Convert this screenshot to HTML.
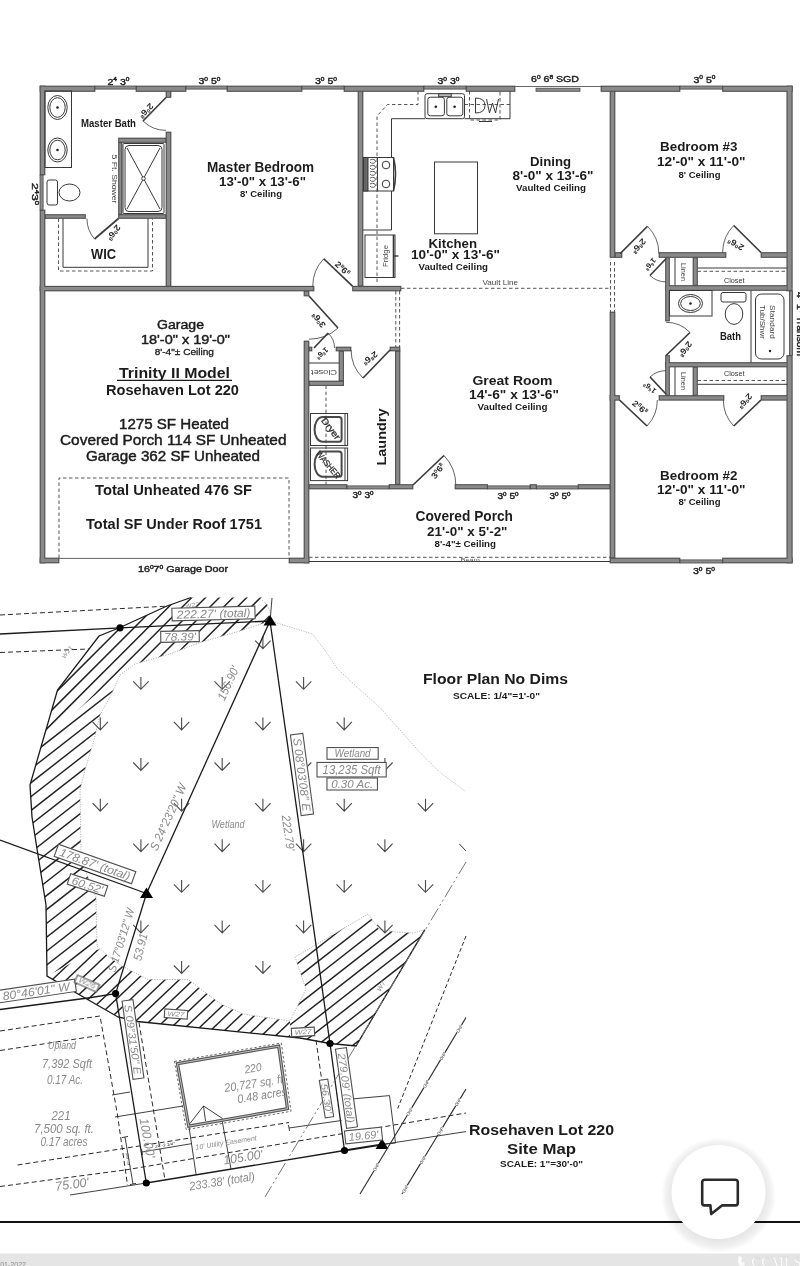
<!DOCTYPE html>
<html><head><meta charset="utf-8"><title>Floor Plan</title>
<style>
html,body{margin:0;padding:0;background:#fff;}
body{width:800px;height:1266px;overflow:hidden;position:relative;font-family:"Liberation Sans",sans-serif;}
svg{position:absolute;left:0;top:0;display:block;will-change:transform;opacity:0.9999;}
svg text{font-family:"Liberation Sans",sans-serif;}
.w rect,.w polygon{fill:#8a8a8a;stroke:#4a4a4a;stroke-width:0.8;}
.t{stroke:#383838;stroke-width:1;fill:none;}
.d{stroke:#444;stroke-width:0.9;fill:none;stroke-dasharray:3.5 2.5;}
.cad text{font-family:"Liberation Sans",sans-serif;font-style:italic;fill:#8a8a8a;font-weight:normal;}
</style></head><body>
<svg width="800" height="1266" viewBox="0 0 800 1266">
<g fill="#4e4e4e">
<rect x="39.65" y="85.65" width="55.70" height="6.20"/>
<rect x="135.65" y="85.65" width="50.70" height="6.20"/>
<rect x="226.65" y="85.65" width="75.70" height="6.20"/>
<rect x="343.65" y="85.65" width="80.70" height="6.20"/>
<rect x="465.65" y="85.65" width="49.70" height="6.20"/>
<rect x="600.65" y="85.65" width="79.70" height="6.20"/>
<rect x="722.15" y="85.65" width="70.50" height="6.20"/>
<rect x="39.65" y="85.65" width="5.70" height="89.70"/>
<rect x="39.65" y="209.65" width="5.70" height="353.70"/>
<rect x="786.45" y="85.65" width="6.20" height="205.70"/>
<rect x="786.45" y="355.15" width="6.20" height="208.20"/>
<rect x="609.65" y="557.65" width="70.70" height="5.70"/>
<rect x="722.15" y="557.65" width="70.50" height="5.70"/>
<rect x="39.65" y="557.65" width="19.70" height="5.70"/>
<rect x="288.65" y="557.65" width="20.70" height="5.70"/>
<rect x="165.65" y="90.65" width="5.70" height="7.20"/>
<rect x="165.65" y="131.65" width="5.70" height="155.20"/>
<rect x="44.65" y="214.15" width="41.20" height="4.70"/>
<rect x="118.15" y="214.15" width="48.20" height="4.70"/>
<rect x="118.15" y="137.65" width="48.20" height="5.20"/>
<rect x="118.15" y="142.15" width="4.20" height="72.70"/>
<rect x="39.65" y="285.85" width="274.70" height="5.50"/>
<rect x="352.15" y="285.85" width="49.20" height="5.50"/>
<rect x="357.65" y="90.65" width="5.70" height="195.90"/>
<rect x="609.65" y="90.65" width="5.70" height="167.20"/>
<rect x="614.65" y="252.15" width="7.70" height="5.70"/>
<rect x="609.65" y="311.65" width="5.70" height="246.70"/>
<rect x="658.65" y="252.15" width="67.70" height="5.70"/>
<rect x="760.65" y="252.15" width="27.20" height="5.70"/>
<rect x="665.15" y="257.15" width="4.70" height="64.20"/>
<rect x="665.15" y="355.15" width="4.70" height="40.70"/>
<rect x="692.65" y="257.15" width="5.20" height="28.70"/>
<rect x="692.65" y="366.65" width="5.20" height="29.20"/>
<rect x="665.15" y="285.15" width="122.70" height="5.70"/>
<rect x="665.15" y="362.15" width="122.70" height="5.20"/>
<rect x="609.65" y="395.15" width="10.20" height="5.50"/>
<rect x="658.65" y="395.15" width="65.70" height="5.50"/>
<rect x="760.65" y="395.15" width="27.20" height="5.50"/>
<rect x="303.65" y="290.65" width="5.70" height="5.70"/>
<rect x="303.65" y="340.65" width="5.70" height="222.70"/>
<rect x="308.65" y="346.65" width="3.70" height="4.70"/>
<rect x="335.65" y="346.65" width="15.70" height="4.70"/>
<rect x="338.65" y="350.65" width="5.30" height="30.70"/>
<rect x="308.65" y="380.65" width="35.30" height="5.30"/>
<rect x="389.65" y="346.65" width="10.70" height="4.70"/>
<rect x="395.05" y="350.65" width="5.30" height="134.20"/>
<rect x="308.65" y="484.15" width="38.70" height="5.20"/>
<rect x="388.65" y="484.15" width="24.70" height="5.20"/>
<rect x="454.65" y="484.15" width="33.30" height="5.20"/>
<rect x="529.65" y="484.15" width="7.20" height="5.20"/>
<rect x="577.65" y="484.15" width="32.70" height="5.20"/>
</g><g fill="#8a8a8a">
<rect x="40.75" y="86.75" width="53.50" height="4.00"/>
<rect x="136.75" y="86.75" width="48.50" height="4.00"/>
<rect x="227.75" y="86.75" width="73.50" height="4.00"/>
<rect x="344.75" y="86.75" width="78.50" height="4.00"/>
<rect x="466.75" y="86.75" width="47.50" height="4.00"/>
<rect x="601.75" y="86.75" width="77.50" height="4.00"/>
<rect x="723.25" y="86.75" width="68.30" height="4.00"/>
<rect x="40.75" y="86.75" width="3.50" height="87.50"/>
<rect x="40.75" y="210.75" width="3.50" height="351.50"/>
<rect x="787.55" y="86.75" width="4.00" height="203.50"/>
<rect x="787.55" y="356.25" width="4.00" height="206.00"/>
<rect x="610.75" y="558.75" width="68.50" height="3.50"/>
<rect x="723.25" y="558.75" width="68.30" height="3.50"/>
<rect x="40.75" y="558.75" width="17.50" height="3.50"/>
<rect x="289.75" y="558.75" width="18.50" height="3.50"/>
<rect x="166.75" y="91.75" width="3.50" height="5.00"/>
<rect x="166.75" y="132.75" width="3.50" height="153.00"/>
<rect x="45.75" y="215.25" width="39.00" height="2.50"/>
<rect x="119.25" y="215.25" width="46.00" height="2.50"/>
<rect x="119.25" y="138.75" width="46.00" height="3.00"/>
<rect x="119.25" y="143.25" width="2.00" height="70.50"/>
<rect x="40.75" y="286.95" width="272.50" height="3.30"/>
<rect x="353.25" y="286.95" width="47.00" height="3.30"/>
<rect x="358.75" y="91.75" width="3.50" height="193.70"/>
<rect x="610.75" y="91.75" width="3.50" height="165.00"/>
<rect x="615.75" y="253.25" width="5.50" height="3.50"/>
<rect x="610.75" y="312.75" width="3.50" height="244.50"/>
<rect x="659.75" y="253.25" width="65.50" height="3.50"/>
<rect x="761.75" y="253.25" width="25.00" height="3.50"/>
<rect x="666.25" y="258.25" width="2.50" height="62.00"/>
<rect x="666.25" y="356.25" width="2.50" height="38.50"/>
<rect x="693.75" y="258.25" width="3.00" height="26.50"/>
<rect x="693.75" y="367.75" width="3.00" height="27.00"/>
<rect x="666.25" y="286.25" width="120.50" height="3.50"/>
<rect x="666.25" y="363.25" width="120.50" height="3.00"/>
<rect x="610.75" y="396.25" width="8.00" height="3.30"/>
<rect x="659.75" y="396.25" width="63.50" height="3.30"/>
<rect x="761.75" y="396.25" width="25.00" height="3.30"/>
<rect x="304.75" y="291.75" width="3.50" height="3.50"/>
<rect x="304.75" y="341.75" width="3.50" height="220.50"/>
<rect x="309.75" y="347.75" width="1.50" height="2.50"/>
<rect x="336.75" y="347.75" width="13.50" height="2.50"/>
<rect x="339.75" y="351.75" width="3.10" height="28.50"/>
<rect x="309.75" y="381.75" width="33.10" height="3.10"/>
<rect x="390.75" y="347.75" width="8.50" height="2.50"/>
<rect x="396.15" y="351.75" width="3.10" height="132.00"/>
<rect x="309.75" y="485.25" width="36.50" height="3.00"/>
<rect x="389.75" y="485.25" width="22.50" height="3.00"/>
<rect x="455.75" y="485.25" width="31.10" height="3.00"/>
<rect x="530.75" y="485.25" width="5.00" height="3.00"/>
<rect x="578.75" y="485.25" width="30.50" height="3.00"/>
</g>
<g fill="#8c8c8c" stroke="#4a4a4a" stroke-width="0.8">
<rect x="95" y="86" width="41" height="3.1"/>
<rect x="186" y="86" width="41" height="3.1"/>
<rect x="302" y="86" width="42" height="3.1"/>
<rect x="424" y="86" width="42" height="3.1"/>
<rect x="680" y="86" width="42.5" height="3.1"/>
<rect x="680" y="559.9" width="42.5" height="3.1"/>
<rect x="40" y="175" width="3.1" height="35"/>
<rect x="789.4" y="291" width="3.1" height="64.5"/>
<rect x="347" y="485.9" width="42" height="3.1"/>
<rect x="487.6" y="485.9" width="42.39999999999998" height="3.1"/>
<rect x="536.5" y="485.9" width="41.5" height="3.1"/>
<rect x="536" y="88.2" width="44" height="3.1"/>
</g>
<line x1="515" y1="86.5" x2="601" y2="86.5" stroke="#555" stroke-width="0.9"/>
<line x1="59" y1="558.4" x2="289" y2="558.4" stroke="#555" stroke-width="0.9"/>
<line x1="166" y1="97.5" x2="143" y2="121" stroke="#3c3c3c" stroke-width="1.7"/>
<path d="M143 121 A32.88 32.88 0 0 0 166.00 130.38" fill="none" stroke="#3c3c3c" stroke-width="0.8"/>
<line x1="118.5" y1="218.5" x2="94.5" y2="239" stroke="#3c3c3c" stroke-width="1.7"/>
<path d="M94.5 239 A31.56 31.56 0 0 1 86.94 218.50" fill="none" stroke="#3c3c3c" stroke-width="0.8"/>
<line x1="352.5" y1="286.2" x2="323.75" y2="258.75" stroke="#3c3c3c" stroke-width="1.7"/>
<path d="M323.75 258.75 A39.75 39.75 0 0 0 312.75 286.20" fill="none" stroke="#3c3c3c" stroke-width="0.8"/>
<line x1="309" y1="296" x2="338" y2="328" stroke="#3c3c3c" stroke-width="1.7"/>
<path d="M338 328 A43.19 43.19 0 0 1 309.00 339.19" fill="none" stroke="#3c3c3c" stroke-width="0.8"/>
<line x1="314" y1="348" x2="328" y2="333" stroke="#3c3c3c" stroke-width="1.7"/>
<path d="M328 333 A20.52 20.52 0 0 1 334.52 348.00" fill="none" stroke="#3c3c3c" stroke-width="0.8"/>
<line x1="390" y1="350" x2="363" y2="378" stroke="#3c3c3c" stroke-width="1.7"/>
<path d="M363 378 A38.90 38.90 0 0 1 351.10 350.00" fill="none" stroke="#3c3c3c" stroke-width="0.8"/>
<line x1="413" y1="485" x2="444" y2="455.5" stroke="#3c3c3c" stroke-width="1.7"/>
<path d="M444 455.5 A42.79 42.79 0 0 1 455.79 485.00" fill="none" stroke="#3c3c3c" stroke-width="0.8"/>
<line x1="620" y1="253.75" x2="647.5" y2="226.25" stroke="#3c3c3c" stroke-width="1.7"/>
<path d="M647.5 226.25 A38.89 38.89 0 0 1 658.89 253.75" fill="none" stroke="#3c3c3c" stroke-width="0.8"/>
<line x1="761" y1="252.5" x2="733.75" y2="225.5" stroke="#3c3c3c" stroke-width="1.7"/>
<path d="M733.75 225.5 A38.36 38.36 0 0 0 722.64 252.50" fill="none" stroke="#3c3c3c" stroke-width="0.8"/>
<line x1="666" y1="258.75" x2="650" y2="275.5" stroke="#3c3c3c" stroke-width="1.7"/>
<path d="M650 275.5 A23.16 23.16 0 0 0 666.00 281.91" fill="none" stroke="#3c3c3c" stroke-width="0.8"/>
<line x1="666" y1="355.5" x2="690" y2="332.5" stroke="#3c3c3c" stroke-width="1.7"/>
<path d="M690 332.5 A33.24 33.24 0 0 0 666.00 322.26" fill="none" stroke="#3c3c3c" stroke-width="0.8"/>
<line x1="666" y1="394" x2="650" y2="377" stroke="#3c3c3c" stroke-width="1.7"/>
<path d="M650 377 A23.35 23.35 0 0 1 666.00 370.65" fill="none" stroke="#3c3c3c" stroke-width="0.8"/>
<line x1="619.5" y1="400" x2="647" y2="426" stroke="#3c3c3c" stroke-width="1.7"/>
<path d="M647 426 A37.85 37.85 0 0 0 657.35 400.00" fill="none" stroke="#3c3c3c" stroke-width="0.8"/>
<line x1="761" y1="400" x2="733.75" y2="426" stroke="#3c3c3c" stroke-width="1.7"/>
<path d="M733.75 426 A37.66 37.66 0 0 1 723.34 400.00" fill="none" stroke="#3c3c3c" stroke-width="0.8"/>
<g class="t">
<rect x="45" y="91" width="26.5" height="76.5"/>
<ellipse cx="57.5" cy="107.5" rx="9.7" ry="12"/>
<ellipse cx="57.5" cy="107.5" rx="7.7" ry="9.8"/>
<circle cx="57.5" cy="107.5" r="1.3" fill="#222" stroke="none"/>
<ellipse cx="57.5" cy="150" rx="9.7" ry="12"/>
<ellipse cx="57.5" cy="150" rx="7.7" ry="9.8"/>
<circle cx="57.5" cy="150" r="1.3" fill="#222" stroke="none"/>
<rect x="47" y="180" width="10.5" height="25" rx="2"/>
<ellipse cx="69.5" cy="192.5" rx="10.5" ry="8.5"/>
<rect x="123" y="143.5" width="41" height="70" rx="1"/>
<rect x="125" y="145.5" width="37" height="66" rx="4"/>
<line x1="127" y1="148" x2="160" y2="209"/><line x1="160" y1="148" x2="127" y2="209"/>
<circle cx="143.5" cy="178.5" r="1.8" fill="#fff"/>
</g>
<path class="d" d="M58.5 218.5 V271 H152.5 V218.5"/>
<path class="t" d="M63 218.5 V267.3 H148 V218.5"/>
<g class="t">
<path d="M363 230 H391.5 V191"/>
<path d="M391.5 157.5 V118.7 H425"/>
<path d="M464.5 118.7 H510 V91"/>
<rect x="363.5" y="157.5" width="30" height="33.5" fill="#fff"/>
<rect x="363.5" y="157.5" width="4.5" height="33.5" fill="#666"/>
<line x1="377.5" y1="157.5" x2="377.5" y2="191"/>
<path d="M393.5 157.5 Q397.5 174 393.5 191" stroke-width="1.6"/>
<circle cx="386" cy="165" r="3.8"/><circle cx="386" cy="184" r="3.8"/>
<path d="M370 160 q3 -1.5 5 0 q1.5 2 -1 3.2 q-3 0.5 -4 -1" stroke-width="0.8"/>
<path d="M370 166 q3 -1.5 5 0 q1.5 2 -1 3.2 q-3 0.5 -4 -1" stroke-width="0.8"/>
<path d="M370 172 q3 -1.5 5 0 q1.5 2 -1 3.2 q-3 0.5 -4 -1" stroke-width="0.8"/>
<path d="M370 178 q3 -1.5 5 0 q1.5 2 -1 3.2 q-3 0.5 -4 -1" stroke-width="0.8"/>
<path d="M370 184 q3 -1.5 5 0 q1.5 2 -1 3.2 q-3 0.5 -4 -1" stroke-width="0.8"/>
<rect x="365" y="235" width="30" height="42.5"/>
<line x1="393.5" y1="235" x2="393.5" y2="277.5" stroke-width="1.6"/>
<line x1="393.5" y1="256" x2="398.5" y2="256" stroke-width="1.4"/>
<rect x="425" y="93.7" width="39.5" height="25" rx="2" fill="#fff"/>
<rect x="427.8" y="97.2" width="16.6" height="18.6" rx="2.5"/>
<rect x="446.8" y="97.2" width="16" height="18.6" rx="2.5"/>
<circle cx="435.8" cy="106.8" r="1.3" fill="#222" stroke="none"/>
<circle cx="454.6" cy="106.8" r="1.3" fill="#222" stroke="none"/>
<rect x="438.7" y="93.7" width="12.5" height="3" fill="#bbb"/>
<rect x="434.5" y="162" width="43" height="71.8"/>
</g>
<path class="d" d="M377 282 V116 L387.5 104.5 H418 V91"/>
<path class="d" d="M464.5 104.5 H510"/>
<path class="d" d="M469.5 91 V120 H500 V91"/>
<path class="t" d="M479 121.5 H492" />
<path class="t" d="M475.5 98 V113 M475.5 98 Q485 98 485 105.5 Q485 113 475.5 113 M486.5 99 L489.5 113 L492.5 103 L495.5 113 L498.5 99" stroke-width="0.9" stroke="#555"/>
<path class="d" d="M401 288.3 H610"/>
<path class="d" d="M395.8 291 V347 M399.6 291 V347"/>
<path class="d" d="M610.5 262 V312 M614.5 262 V312"/>
<line class="t" x1="309" y1="363" x2="339" y2="363"/>
<path class="d" d="M326 385.6 V484.5"/>
<g class="t">
<rect x="310.5" y="413.5" width="37.1" height="32" />
<line x1="345" y1="413.5" x2="345" y2="445.5"/>
<path d="M323 417.1 H339 Q341.6 417.1 341.6 419.7 V439.1 Q341.6 441.7 339 441.7 H323 C311.8 441.7 311.8 417.1 323 417.1 Z" stroke-width="2" stroke="#484848"/>
<rect x="310.5" y="448" width="37.1" height="32.6" />
<line x1="345" y1="448" x2="345" y2="480.6"/>
<path d="M323 451.6 H339 Q341.6 451.6 341.6 454.2 V474.2 Q341.6 476.8 339 476.8 H323 C311.8 476.8 311.8 451.6 323 451.6 Z" stroke-width="2" stroke="#484848"/>
</g>
<path class="d" d="M697.5 271.3 H787.5 M697.5 380.5 H787.5"/>
<path class="t" d="M697.5 268 H787.5 M697.5 384.3 H787.5"/>
<path class="t" d="M675 257.5 V285.5 M675 367 V395.5"/>
<g class="t">
<rect x="669.5" y="290.5" width="42.5" height="25.5"/>
<ellipse cx="690.5" cy="303.5" rx="12" ry="9"/><ellipse cx="690.5" cy="303.5" rx="9.8" ry="7"/>
<circle cx="690.5" cy="303.5" r="1.3" fill="#222" stroke="none"/>
<rect x="721" y="292.5" width="25" height="9.5" rx="2"/>
<ellipse cx="734" cy="314" rx="8.8" ry="10.4"/>
<line x1="751" y1="290.5" x2="751" y2="362.5"/>
<rect x="755.5" y="294" width="28.5" height="65" rx="6"/>
<circle cx="770" cy="351" r="1.2" fill="#222" stroke="none"/>
</g>
<path class="d" d="M59 558 V478 H289 V558" stroke-dasharray="2.5 2"/>
<path class="d" d="M309 557.3 H610" stroke-dasharray="2.5 2"/>
<path class="t" d="M309 561.5 H610"/>
<text x="260.5" y="172" font-size="14" font-weight="bold" fill="#1c1c1c" text-anchor="middle" textLength="107" lengthAdjust="spacingAndGlyphs" >Master Bedroom</text>
<text x="262.5" y="186" font-size="13.5" font-weight="bold" fill="#1c1c1c" text-anchor="middle" textLength="87" lengthAdjust="spacingAndGlyphs" >13'-0" x 13'-6"</text>
<text x="261.0" y="197" font-size="9.5" font-weight="bold" fill="#1c1c1c" text-anchor="middle" textLength="42" lengthAdjust="spacingAndGlyphs" >8' Ceiling</text>
<text x="108.5" y="127" font-size="10" font-weight="bold" fill="#1c1c1c" text-anchor="middle" textLength="55" lengthAdjust="spacingAndGlyphs" >Master Bath</text>
<text x="103.5" y="259" font-size="14" font-weight="bold" fill="#1c1c1c" text-anchor="middle" textLength="25" lengthAdjust="spacingAndGlyphs" >WIC</text>
<text x="550.5" y="165.5" font-size="13.5" font-weight="bold" fill="#1c1c1c" text-anchor="middle" textLength="41" lengthAdjust="spacingAndGlyphs" >Dining</text>
<text x="553.0" y="179.5" font-size="13.5" font-weight="bold" fill="#1c1c1c" text-anchor="middle" textLength="81.0" lengthAdjust="spacingAndGlyphs" >8'-0" x 13'-6"</text>
<text x="551.0" y="191" font-size="9.5" font-weight="bold" fill="#1c1c1c" text-anchor="middle" textLength="70" lengthAdjust="spacingAndGlyphs" >Vaulted Ceiling</text>
<text x="452.75" y="248" font-size="13.5" font-weight="bold" fill="#1c1c1c" text-anchor="middle" textLength="48.5" lengthAdjust="spacingAndGlyphs" >Kitchen</text>
<text x="455.5" y="259" font-size="13.5" font-weight="bold" fill="#1c1c1c" text-anchor="middle" textLength="89" lengthAdjust="spacingAndGlyphs" >10'-0" x 13'-6"</text>
<text x="453.25" y="270" font-size="9.5" font-weight="bold" fill="#1c1c1c" text-anchor="middle" textLength="69.5" lengthAdjust="spacingAndGlyphs" >Vaulted Ceiling</text>
<text x="698.75" y="151" font-size="13.5" font-weight="bold" fill="#1c1c1c" text-anchor="middle" textLength="77.5" lengthAdjust="spacingAndGlyphs" >Bedroom #3</text>
<text x="701.25" y="165.5" font-size="13.5" font-weight="bold" fill="#1c1c1c" text-anchor="middle" textLength="88.5" lengthAdjust="spacingAndGlyphs" >12'-0" x 11'-0"</text>
<text x="699.5" y="177.5" font-size="9.5" font-weight="bold" fill="#1c1c1c" text-anchor="middle" textLength="42.0" lengthAdjust="spacingAndGlyphs" >8' Ceiling</text>
<text x="698.75" y="479.5" font-size="13.5" font-weight="bold" fill="#1c1c1c" text-anchor="middle" textLength="77.5" lengthAdjust="spacingAndGlyphs" >Bedroom #2</text>
<text x="701.25" y="493.7" font-size="13.5" font-weight="bold" fill="#1c1c1c" text-anchor="middle" textLength="88.5" lengthAdjust="spacingAndGlyphs" >12'-0" x 11'-0"</text>
<text x="699.5" y="504.5" font-size="9.5" font-weight="bold" fill="#1c1c1c" text-anchor="middle" textLength="42.0" lengthAdjust="spacingAndGlyphs" >8' Ceiling</text>
<text x="512.5" y="385" font-size="13.5" font-weight="bold" fill="#1c1c1c" text-anchor="middle" textLength="80.0" lengthAdjust="spacingAndGlyphs" >Great Room</text>
<text x="514.0" y="399" font-size="13.5" font-weight="bold" fill="#1c1c1c" text-anchor="middle" textLength="90" lengthAdjust="spacingAndGlyphs" >14'-6" x 13'-6"</text>
<text x="512.5" y="410" font-size="9.5" font-weight="bold" fill="#1c1c1c" text-anchor="middle" textLength="70.0" lengthAdjust="spacingAndGlyphs" >Vaulted Ceiling</text>
<text x="464.25" y="521.4" font-size="14" font-weight="bold" fill="#1c1c1c" text-anchor="middle" textLength="97.5" lengthAdjust="spacingAndGlyphs" >Covered Porch</text>
<text x="467.25" y="536" font-size="13.5" font-weight="bold" fill="#1c1c1c" text-anchor="middle" textLength="80.5" lengthAdjust="spacingAndGlyphs" >21'-0" x 5'-2"</text>
<text x="465.25" y="547.3" font-size="9.5" font-weight="bold" fill="#1c1c1c" text-anchor="middle" textLength="61.5" lengthAdjust="spacingAndGlyphs" >8'-4"± Ceiling</text>
<text x="180.5" y="329.4" font-size="13" font-weight="normal" fill="#1c1c1c" text-anchor="middle" textLength="47" lengthAdjust="spacingAndGlyphs" stroke="#1c1c1c" stroke-width="0.45">Garage</text>
<text x="185.5" y="344" font-size="13" font-weight="normal" fill="#1c1c1c" text-anchor="middle" textLength="89" lengthAdjust="spacingAndGlyphs" stroke="#1c1c1c" stroke-width="0.45">18'-0" x 19'-0"</text>
<text x="184.35" y="355.3" font-size="9.5" font-weight="normal" fill="#1c1c1c" text-anchor="middle" textLength="59.3" lengthAdjust="spacingAndGlyphs" stroke="#1c1c1c" stroke-width="0.3">8'-4"± Ceiling</text>
<text x="174.5" y="378" font-size="14.5" font-weight="bold" fill="#1c1c1c" text-anchor="middle" textLength="111" lengthAdjust="spacingAndGlyphs" >Trinity II Model</text>
<line x1="117" y1="380.3" x2="232" y2="380.3" stroke="#1c1c1c" stroke-width="1.3"/>
<text x="172.5" y="395" font-size="14" font-weight="bold" fill="#1c1c1c" text-anchor="middle" textLength="133" lengthAdjust="spacingAndGlyphs" >Rosehaven Lot 220</text>
<text x="174.0" y="429" font-size="14.5" font-weight="normal" fill="#1c1c1c" text-anchor="middle" textLength="110" lengthAdjust="spacingAndGlyphs" stroke="#1c1c1c" stroke-width="0.45">1275 SF Heated</text>
<text x="173.25" y="445" font-size="14.5" font-weight="normal" fill="#1c1c1c" text-anchor="middle" textLength="226.5" lengthAdjust="spacingAndGlyphs" stroke="#1c1c1c" stroke-width="0.45">Covered Porch 114 SF Unheated</text>
<text x="173.0" y="461" font-size="14.5" font-weight="normal" fill="#1c1c1c" text-anchor="middle" textLength="174" lengthAdjust="spacingAndGlyphs" stroke="#1c1c1c" stroke-width="0.45">Garage 362 SF Unheated</text>
<text x="173.5" y="495" font-size="14" font-weight="bold" fill="#1c1c1c" text-anchor="middle" textLength="157" lengthAdjust="spacingAndGlyphs" >Total Unheated 476 SF</text>
<text x="174.0" y="529" font-size="14" font-weight="bold" fill="#1c1c1c" text-anchor="middle" textLength="176" lengthAdjust="spacingAndGlyphs" >Total SF Under Roof 1751</text>
<text x="730.5" y="340" font-size="10" font-weight="bold" fill="#1c1c1c" text-anchor="middle" textLength="21" lengthAdjust="spacingAndGlyphs" >Bath</text>
<text x="734.25" y="283" font-size="7" font-weight="normal" fill="#333" text-anchor="middle" textLength="20.5" lengthAdjust="spacingAndGlyphs" >Closet</text>
<text x="734.25" y="376.3" font-size="7" font-weight="normal" fill="#333" text-anchor="middle" textLength="20.5" lengthAdjust="spacingAndGlyphs" >Closet</text>
<text x="500.25" y="284.5" font-size="7" font-weight="normal" fill="#444" text-anchor="middle" textLength="35.5" lengthAdjust="spacingAndGlyphs" >Vault Line</text>
<text x="470.25" y="562" font-size="6" font-weight="normal" fill="#555" text-anchor="middle" textLength="19.5" lengthAdjust="spacingAndGlyphs" >Beam</text>
<text x="118.5" y="84.5" font-size="9" font-weight="normal" stroke="#222" stroke-width="0.4" fill="#222" text-anchor="middle" textLength="22" lengthAdjust="spacingAndGlyphs" ><tspan>2</tspan><tspan dy="-3.2" font-size="5.6">4</tspan><tspan dy="3.2"> 3</tspan><tspan dy="-3.2" font-size="5.6">0</tspan></text>
<text x="209.5" y="84" font-size="9" font-weight="normal" stroke="#222" stroke-width="0.4" fill="#222" text-anchor="middle" textLength="22" lengthAdjust="spacingAndGlyphs" ><tspan>3</tspan><tspan dy="-3.2" font-size="5.6">0</tspan><tspan dy="3.2"> 5</tspan><tspan dy="-3.2" font-size="5.6">0</tspan></text>
<text x="326" y="84" font-size="9" font-weight="normal" stroke="#222" stroke-width="0.4" fill="#222" text-anchor="middle" textLength="22" lengthAdjust="spacingAndGlyphs" ><tspan>3</tspan><tspan dy="-3.2" font-size="5.6">0</tspan><tspan dy="3.2"> 5</tspan><tspan dy="-3.2" font-size="5.6">0</tspan></text>
<text x="448.5" y="84" font-size="9" font-weight="normal" stroke="#222" stroke-width="0.4" fill="#222" text-anchor="middle" textLength="22" lengthAdjust="spacingAndGlyphs" ><tspan>3</tspan><tspan dy="-3.2" font-size="5.6">0</tspan><tspan dy="3.2"> 3</tspan><tspan dy="-3.2" font-size="5.6">0</tspan></text>
<text x="555" y="82" font-size="9" font-weight="normal" stroke="#222" stroke-width="0.4" fill="#222" text-anchor="middle" textLength="48" lengthAdjust="spacingAndGlyphs" ><tspan>6</tspan><tspan dy="-3.2" font-size="5.6">0</tspan><tspan dy="3.2"> 6</tspan><tspan dy="-3.2" font-size="5.6">8</tspan><tspan dy="3.2">  SGD</tspan></text>
<text x="704.5" y="82.5" font-size="9" font-weight="normal" stroke="#222" stroke-width="0.4" fill="#222" text-anchor="middle" textLength="22" lengthAdjust="spacingAndGlyphs" ><tspan>3</tspan><tspan dy="-3.2" font-size="5.6">0</tspan><tspan dy="3.2"> 5</tspan><tspan dy="-3.2" font-size="5.6">0</tspan></text>
<text x="32" y="194" font-size="9" font-weight="normal" stroke="#222" stroke-width="0.4" fill="#222" text-anchor="middle" textLength="22" lengthAdjust="spacingAndGlyphs" transform="rotate(90 32 194)" ><tspan>2</tspan><tspan dy="-3.2" font-size="5.6">4</tspan><tspan dy="3.2">3</tspan><tspan dy="-3.2" font-size="5.6">0</tspan></text>
<text x="796.5" y="324" font-size="8.5" font-weight="normal" stroke="#222" stroke-width="0.4" fill="#222" text-anchor="middle" textLength="64" lengthAdjust="spacingAndGlyphs" transform="rotate(90 796.5 324)" ><tspan>4</tspan><tspan dy="-3.2" font-size="5.3">0</tspan><tspan dy="3.2"> 1</tspan><tspan dy="-3.2" font-size="5.3">0</tspan><tspan dy="3.2"> Transom</tspan></text>
<text x="363" y="498" font-size="8.5" font-weight="normal" stroke="#222" stroke-width="0.4" fill="#222" text-anchor="middle" textLength="21" lengthAdjust="spacingAndGlyphs" ><tspan>3</tspan><tspan dy="-3.2" font-size="5.3">0</tspan><tspan dy="3.2"> 3</tspan><tspan dy="-3.2" font-size="5.3">0</tspan></text>
<text x="508" y="499" font-size="8.5" font-weight="normal" stroke="#222" stroke-width="0.4" fill="#222" text-anchor="middle" textLength="21" lengthAdjust="spacingAndGlyphs" ><tspan>3</tspan><tspan dy="-3.2" font-size="5.3">0</tspan><tspan dy="3.2"> 5</tspan><tspan dy="-3.2" font-size="5.3">0</tspan></text>
<text x="560" y="499" font-size="8.5" font-weight="normal" stroke="#222" stroke-width="0.4" fill="#222" text-anchor="middle" textLength="21" lengthAdjust="spacingAndGlyphs" ><tspan>3</tspan><tspan dy="-3.2" font-size="5.3">0</tspan><tspan dy="3.2"> 5</tspan><tspan dy="-3.2" font-size="5.3">0</tspan></text>
<text x="704" y="574" font-size="9" font-weight="normal" stroke="#222" stroke-width="0.4" fill="#222" text-anchor="middle" textLength="22" lengthAdjust="spacingAndGlyphs" ><tspan>3</tspan><tspan dy="-3.2" font-size="5.6">0</tspan><tspan dy="3.2"> 5</tspan><tspan dy="-3.2" font-size="5.6">0</tspan></text>
<text x="183" y="572" font-size="8.5" font-weight="normal" stroke="#222" stroke-width="0.4" fill="#222" text-anchor="middle" textLength="90" lengthAdjust="spacingAndGlyphs" ><tspan>16</tspan><tspan dy="-3.2" font-size="5.3">0</tspan><tspan dy="3.2">7</tspan><tspan dy="-3.2" font-size="5.3">0</tspan><tspan dy="3.2">  Garage Door</tspan></text>
<g transform="translate(146 110.5) rotate(135)"><text x="0" y="2.8" font-size="8.5" font-weight="bold" fill="#2a2a2a" text-anchor="middle" textLength="17" lengthAdjust="spacingAndGlyphs"><tspan>2</tspan><tspan dy="-3" font-size="5.1">0</tspan><tspan dy="3">6</tspan><tspan dy="-3" font-size="5.1">8</tspan></text></g>
<g transform="translate(113.5 232.5) rotate(128)"><text x="0" y="2.8" font-size="8.5" font-weight="bold" fill="#2a2a2a" text-anchor="middle" textLength="17" lengthAdjust="spacingAndGlyphs"><tspan>2</tspan><tspan dy="-3" font-size="5.1">0</tspan><tspan dy="3">6</tspan><tspan dy="-3" font-size="5.1">8</tspan></text></g>
<g transform="translate(342.5 268.7) rotate(42)"><text x="0" y="2.8" font-size="8.5" font-weight="bold" fill="#2a2a2a" text-anchor="middle" textLength="17" lengthAdjust="spacingAndGlyphs"><tspan>2</tspan><tspan dy="-3" font-size="5.1">8</tspan><tspan dy="3">6</tspan><tspan dy="-3" font-size="5.1">8</tspan></text></g>
<g transform="translate(319 320) rotate(233)"><text x="0" y="2.8" font-size="8.5" font-weight="bold" fill="#2a2a2a" text-anchor="middle" textLength="17" lengthAdjust="spacingAndGlyphs"><tspan>3</tspan><tspan dy="-3" font-size="5.1">0</tspan><tspan dy="3">6</tspan><tspan dy="-3" font-size="5.1">8</tspan></text></g>
<g transform="translate(322 353) rotate(141)"><text x="0" y="2.5" font-size="7.5" font-weight="bold" fill="#2a2a2a" text-anchor="middle" textLength="14" lengthAdjust="spacingAndGlyphs"><tspan>1</tspan><tspan dy="-3" font-size="4.5">6</tspan><tspan dy="3">6</tspan><tspan dy="-3" font-size="4.5">8</tspan></text></g>
<g transform="translate(370 358) rotate(143)"><text x="0" y="2.8" font-size="8.5" font-weight="bold" fill="#2a2a2a" text-anchor="middle" textLength="17" lengthAdjust="spacingAndGlyphs"><tspan>2</tspan><tspan dy="-3" font-size="5.1">8</tspan><tspan dy="3">6</tspan><tspan dy="-3" font-size="5.1">8</tspan></text></g>
<g transform="translate(438 471) rotate(-53)"><text x="0" y="2.8" font-size="8.5" font-weight="bold" fill="#2a2a2a" text-anchor="middle" textLength="17" lengthAdjust="spacingAndGlyphs"><tspan>3</tspan><tspan dy="-3" font-size="5.1">0</tspan><tspan dy="3">6</tspan><tspan dy="-3" font-size="5.1">8</tspan></text></g>
<g transform="translate(638.7 246) rotate(132)"><text x="0" y="2.8" font-size="8.5" font-weight="bold" fill="#2a2a2a" text-anchor="middle" textLength="17" lengthAdjust="spacingAndGlyphs"><tspan>2</tspan><tspan dy="-3" font-size="5.1">8</tspan><tspan dy="3">6</tspan><tspan dy="-3" font-size="5.1">8</tspan></text></g>
<g transform="translate(736 244) rotate(211)"><text x="0" y="2.8" font-size="8.5" font-weight="bold" fill="#2a2a2a" text-anchor="middle" textLength="17" lengthAdjust="spacingAndGlyphs"><tspan>2</tspan><tspan dy="-3" font-size="5.1">0</tspan><tspan dy="3">6</tspan><tspan dy="-3" font-size="5.1">8</tspan></text></g>
<g transform="translate(650 264) rotate(132)"><text x="0" y="2.5" font-size="7.5" font-weight="bold" fill="#2a2a2a" text-anchor="middle" textLength="14" lengthAdjust="spacingAndGlyphs"><tspan>1</tspan><tspan dy="-3" font-size="4.5">6</tspan><tspan dy="3">6</tspan><tspan dy="-3" font-size="4.5">8</tspan></text></g>
<g transform="translate(685 349) rotate(128)"><text x="0" y="2.8" font-size="8.5" font-weight="bold" fill="#2a2a2a" text-anchor="middle" textLength="17" lengthAdjust="spacingAndGlyphs"><tspan>2</tspan><tspan dy="-3" font-size="5.1">0</tspan><tspan dy="3">6</tspan><tspan dy="-3" font-size="5.1">8</tspan></text></g>
<g transform="translate(650 387.5) rotate(219)"><text x="0" y="2.5" font-size="7.5" font-weight="bold" fill="#2a2a2a" text-anchor="middle" textLength="14" lengthAdjust="spacingAndGlyphs"><tspan>1</tspan><tspan dy="-3" font-size="4.5">6</tspan><tspan dy="3">6</tspan><tspan dy="-3" font-size="4.5">8</tspan></text></g>
<g transform="translate(640 407.5) rotate(39)"><text x="0" y="2.8" font-size="8.5" font-weight="bold" fill="#2a2a2a" text-anchor="middle" textLength="17" lengthAdjust="spacingAndGlyphs"><tspan>2</tspan><tspan dy="-3" font-size="5.1">8</tspan><tspan dy="3">6</tspan><tspan dy="-3" font-size="5.1">8</tspan></text></g>
<g transform="translate(745 401) rotate(132)"><text x="0" y="2.8" font-size="8.5" font-weight="bold" fill="#2a2a2a" text-anchor="middle" textLength="17" lengthAdjust="spacingAndGlyphs"><tspan>2</tspan><tspan dy="-3" font-size="5.1">0</tspan><tspan dy="3">6</tspan><tspan dy="-3" font-size="5.1">8</tspan></text></g>
<text x="386" y="437" font-size="12.5" font-weight="bold" fill="#1c1c1c" text-anchor="middle" textLength="57" lengthAdjust="spacingAndGlyphs" transform="rotate(-90 386 437)" >Laundry</text>
<text x="111.5" y="179" font-size="7" font-weight="normal" fill="#444" text-anchor="middle" textLength="49" lengthAdjust="spacingAndGlyphs" transform="rotate(90 111.5 179)" >5 Ft. Shower</text>
<text x="387.5" y="256" font-size="7" font-weight="normal" fill="#444" text-anchor="middle" textLength="22" lengthAdjust="spacingAndGlyphs" transform="rotate(-90 387.5 256)" >Fridge</text>
<text x="681" y="272" font-size="7" font-weight="normal" fill="#444" text-anchor="middle" textLength="18" lengthAdjust="spacingAndGlyphs" transform="rotate(90 681 272)" >Linen</text>
<text x="681" y="381" font-size="7" font-weight="normal" fill="#444" text-anchor="middle" textLength="18" lengthAdjust="spacingAndGlyphs" transform="rotate(90 681 381)" >Linen</text>
<text x="769.5" y="322" font-size="7" font-weight="normal" fill="#444" text-anchor="middle" textLength="34" lengthAdjust="spacingAndGlyphs" transform="rotate(90 769.5 322)" >Standard</text>
<text x="760" y="322" font-size="7" font-weight="normal" fill="#444" text-anchor="middle" textLength="34" lengthAdjust="spacingAndGlyphs" transform="rotate(90 760 322)" >Tub/Shwr</text>
<text x="324" y="370" font-size="7" font-weight="normal" fill="#444" text-anchor="middle" textLength="26" lengthAdjust="spacingAndGlyphs" transform="rotate(180 324 370)" >Closet</text>
<text x="328.5" y="430.5" font-size="9" font-weight="normal" fill="#333" text-anchor="middle" textLength="25" lengthAdjust="spacingAndGlyphs" transform="rotate(52 328.5 430.5)" stroke="#333" stroke-width="0.3">Dryer</text>
<text x="326" y="466.5" font-size="8.5" font-weight="normal" fill="#333" text-anchor="middle" textLength="33" lengthAdjust="spacingAndGlyphs" transform="rotate(50 326 466.5)" stroke="#333" stroke-width="0.3">WASHER</text>
<defs><clipPath id="hc"><polygon points="266,597.5 191,597.5 167,606 120,627.5 99,636 57.5,690 30,785 32,817 37.5,852 46,905 47,976 118,1017 137.5,1021.5 300,1038 330,1043.5 356,1046 425,929.4 414,933 395,932 379,929 368,914 295,957 306,989 290,1021 243,1014 221,1004 210,996 188,979.5 148,979.5 122,966 108,956 97,946 96,897 85,870 81,850 80,790 85,770 94,740 100,715 111,695 120,675 135,664 170,654 200,642.5 240,631 270,621"/></clipPath></defs>
<clipPath id="z1"><polygon points="300,590 300,650 200,660 116,677 46,737.5 -10,737.5 -10,590"/></clipPath>
<g clip-path="url(#hc)"><g clip-path="url(#z1)" stroke="#222" stroke-width="1.45">
<line x1="-269.3" y1="825.0" x2="296.4" y2="259.3"/>
<line x1="-262.4" y1="831.8" x2="303.3" y2="266.2"/>
<line x1="-255.5" y1="838.7" x2="310.1" y2="273.0"/>
<line x1="-248.7" y1="845.6" x2="317.0" y2="279.9"/>
<line x1="-241.8" y1="852.5" x2="323.9" y2="286.8"/>
<line x1="-234.9" y1="859.3" x2="330.8" y2="293.6"/>
<line x1="-228.1" y1="866.2" x2="337.6" y2="300.5"/>
<line x1="-221.2" y1="873.1" x2="344.5" y2="307.4"/>
<line x1="-214.3" y1="879.9" x2="351.4" y2="314.3"/>
<line x1="-207.4" y1="886.8" x2="358.2" y2="321.1"/>
<line x1="-200.6" y1="893.7" x2="365.1" y2="328.0"/>
<line x1="-193.7" y1="900.6" x2="372.0" y2="334.9"/>
<line x1="-186.8" y1="907.4" x2="378.9" y2="341.8"/>
<line x1="-179.9" y1="914.3" x2="385.7" y2="348.6"/>
<line x1="-173.1" y1="921.2" x2="392.6" y2="355.5"/>
<line x1="-166.2" y1="928.1" x2="399.5" y2="362.4"/>
<line x1="-159.3" y1="934.9" x2="406.4" y2="369.2"/>
<line x1="-152.5" y1="941.8" x2="413.2" y2="376.1"/>
<line x1="-145.6" y1="948.7" x2="420.1" y2="383.0"/>
<line x1="-138.7" y1="955.6" x2="427.0" y2="389.9"/>
<line x1="-131.8" y1="962.4" x2="433.9" y2="396.7"/>
<line x1="-125.0" y1="969.3" x2="440.7" y2="403.6"/>
<line x1="-118.1" y1="976.2" x2="447.6" y2="410.5"/>
<line x1="-111.2" y1="983.0" x2="454.5" y2="417.4"/>
<line x1="-104.3" y1="989.9" x2="461.3" y2="424.2"/>
<line x1="-97.5" y1="996.8" x2="468.2" y2="431.1"/>
<line x1="-90.6" y1="1003.7" x2="475.1" y2="438.0"/>
<line x1="-83.7" y1="1010.5" x2="482.0" y2="444.9"/>
<line x1="-76.8" y1="1017.4" x2="488.8" y2="451.7"/>
<line x1="-70.0" y1="1024.3" x2="495.7" y2="458.6"/>
<line x1="-63.1" y1="1031.2" x2="502.6" y2="465.5"/>
</g></g>
<clipPath id="z2"><polygon points="-10,737.5 46,737.5 116,677 150,700 150,940 96,950 47,976 30,990 -10,990"/></clipPath>
<g clip-path="url(#hc)"><g clip-path="url(#z2)" stroke="#222" stroke-width="1.45">
<line x1="-343.5" y1="978.0" x2="287.0" y2="485.5"/>
<line x1="-336.7" y1="986.6" x2="293.7" y2="494.1"/>
<line x1="-330.0" y1="995.2" x2="300.4" y2="502.7"/>
<line x1="-323.2" y1="1003.9" x2="307.2" y2="511.3"/>
<line x1="-316.5" y1="1012.5" x2="313.9" y2="520.0"/>
<line x1="-309.7" y1="1021.1" x2="320.7" y2="528.6"/>
<line x1="-303.0" y1="1029.8" x2="327.4" y2="537.2"/>
<line x1="-296.3" y1="1038.4" x2="334.1" y2="545.9"/>
<line x1="-289.5" y1="1047.0" x2="340.9" y2="554.5"/>
<line x1="-282.8" y1="1055.6" x2="347.6" y2="563.1"/>
<line x1="-276.0" y1="1064.3" x2="354.4" y2="571.7"/>
<line x1="-269.3" y1="1072.9" x2="361.1" y2="580.4"/>
<line x1="-262.6" y1="1081.5" x2="367.9" y2="589.0"/>
<line x1="-255.8" y1="1090.2" x2="374.6" y2="597.6"/>
<line x1="-249.1" y1="1098.8" x2="381.3" y2="606.3"/>
<line x1="-242.3" y1="1107.4" x2="388.1" y2="614.9"/>
<line x1="-235.6" y1="1116.0" x2="394.8" y2="623.5"/>
<line x1="-228.8" y1="1124.7" x2="401.6" y2="632.1"/>
<line x1="-222.1" y1="1133.3" x2="408.3" y2="640.8"/>
<line x1="-215.4" y1="1141.9" x2="415.0" y2="649.4"/>
<line x1="-208.6" y1="1150.6" x2="421.8" y2="658.0"/>
<line x1="-201.9" y1="1159.2" x2="428.5" y2="666.7"/>
<line x1="-195.1" y1="1167.8" x2="435.3" y2="675.3"/>
<line x1="-188.4" y1="1176.4" x2="442.0" y2="683.9"/>
<line x1="-181.7" y1="1185.1" x2="448.8" y2="692.5"/>
<line x1="-174.9" y1="1193.7" x2="455.5" y2="701.2"/>
<line x1="-168.2" y1="1202.3" x2="462.2" y2="709.8"/>
<line x1="-161.4" y1="1211.0" x2="469.0" y2="718.4"/>
</g></g>
<clipPath id="z3"><polygon points="47,976 96,950 150,940 290,940 290,1060 30,1060 30,990"/></clipPath>
<g clip-path="url(#hc)"><g clip-path="url(#z3)" stroke="#222" stroke-width="1.45">
<line x1="-212.8" y1="1204.4" x2="367.5" y2="653.7"/>
<line x1="-206.1" y1="1211.5" x2="374.2" y2="660.8"/>
<line x1="-199.4" y1="1218.5" x2="380.9" y2="667.8"/>
<line x1="-192.7" y1="1225.6" x2="387.6" y2="674.9"/>
<line x1="-186.0" y1="1232.6" x2="394.3" y2="681.9"/>
<line x1="-179.3" y1="1239.7" x2="401.0" y2="689.0"/>
<line x1="-172.6" y1="1246.7" x2="407.7" y2="696.0"/>
<line x1="-166.0" y1="1253.8" x2="414.3" y2="703.1"/>
<line x1="-159.3" y1="1260.8" x2="421.0" y2="710.1"/>
<line x1="-152.6" y1="1267.9" x2="427.7" y2="717.2"/>
<line x1="-145.9" y1="1274.9" x2="434.4" y2="724.2"/>
<line x1="-139.2" y1="1282.0" x2="441.1" y2="731.3"/>
<line x1="-132.5" y1="1289.0" x2="447.8" y2="738.3"/>
<line x1="-125.8" y1="1296.1" x2="454.5" y2="745.4"/>
<line x1="-119.1" y1="1303.1" x2="461.2" y2="752.4"/>
<line x1="-112.4" y1="1310.2" x2="467.9" y2="759.5"/>
<line x1="-105.7" y1="1317.2" x2="474.6" y2="766.5"/>
<line x1="-99.0" y1="1324.3" x2="481.3" y2="773.6"/>
<line x1="-92.4" y1="1331.3" x2="487.9" y2="780.6"/>
<line x1="-85.7" y1="1338.4" x2="494.6" y2="787.7"/>
<line x1="-79.0" y1="1345.4" x2="501.3" y2="794.7"/>
<line x1="-72.3" y1="1352.5" x2="508.0" y2="801.8"/>
<line x1="-65.6" y1="1359.5" x2="514.7" y2="808.8"/>
<line x1="-58.9" y1="1366.6" x2="521.4" y2="815.9"/>
<line x1="-52.2" y1="1373.6" x2="528.1" y2="822.9"/>
<line x1="-45.5" y1="1380.7" x2="534.8" y2="830.0"/>
<line x1="-38.8" y1="1387.7" x2="541.5" y2="837.0"/>
</g></g>
<clipPath id="z4"><polygon points="290,890 450,890 450,1060 290,1060"/></clipPath>
<g clip-path="url(#hc)"><g clip-path="url(#z4)" stroke="#222" stroke-width="1.45">
<line x1="-25.4" y1="1118.6" x2="605.0" y2="626.0"/>
<line x1="-18.7" y1="1127.2" x2="611.7" y2="634.7"/>
<line x1="-12.0" y1="1135.8" x2="618.4" y2="643.3"/>
<line x1="-5.2" y1="1144.4" x2="625.2" y2="651.9"/>
<line x1="1.5" y1="1153.1" x2="631.9" y2="660.5"/>
<line x1="8.3" y1="1161.7" x2="638.7" y2="669.2"/>
<line x1="15.0" y1="1170.3" x2="645.4" y2="677.8"/>
<line x1="21.7" y1="1179.0" x2="652.2" y2="686.4"/>
<line x1="28.5" y1="1187.6" x2="658.9" y2="695.1"/>
<line x1="35.2" y1="1196.2" x2="665.6" y2="703.7"/>
<line x1="42.0" y1="1204.8" x2="672.4" y2="712.3"/>
<line x1="48.7" y1="1213.5" x2="679.1" y2="720.9"/>
<line x1="55.5" y1="1222.1" x2="685.9" y2="729.6"/>
<line x1="62.2" y1="1230.7" x2="692.6" y2="738.2"/>
<line x1="68.9" y1="1239.4" x2="699.3" y2="746.8"/>
<line x1="75.7" y1="1248.0" x2="706.1" y2="755.5"/>
<line x1="82.4" y1="1256.6" x2="712.8" y2="764.1"/>
<line x1="89.2" y1="1265.2" x2="719.6" y2="772.7"/>
<line x1="95.9" y1="1273.9" x2="726.3" y2="781.3"/>
<line x1="102.6" y1="1282.5" x2="733.1" y2="790.0"/>
<line x1="109.4" y1="1291.1" x2="739.8" y2="798.6"/>
<line x1="116.1" y1="1299.8" x2="746.5" y2="807.2"/>
<line x1="122.9" y1="1308.4" x2="753.3" y2="815.9"/>
<line x1="129.6" y1="1317.0" x2="760.0" y2="824.5"/>
<line x1="136.3" y1="1325.6" x2="766.8" y2="833.1"/>
</g></g>
<polyline points="191,597.5 167,606 120,627.5 99,636 57.5,690 30,785 32,817 37.5,852 46,905 47,976 118,1017 137.5,1021.5 300,1038 330,1043.5 356,1046 425,929.4" fill="none" stroke="#1a1a1a" stroke-width="1.3"/>
<polyline points="425,929.4 414,933 395,932 379,929 368,914 295,957 306,989 290,1021 243,1014 221,1004 210,996 188,979.5 148,979.5 122,966 108,956 97,946 96,897 85,870 81,850 80,790 85,770 94,740 100,715 111,695 120,675 135,664 170,654 200,642.5 240,631 270,621" fill="none" stroke="#b4b4b4" stroke-width="1" stroke-dasharray="1.2 1.3"/>
<polyline points="270,621 280,624 312.5,634 324,649 337.5,669 357.5,687.5 380,707.5 400,730 420,752.5 440,772.5 465,791" fill="none" stroke="#b8b8b8" stroke-width="1" stroke-dasharray="1.2 1.3"/>
<path d="M262 600 Q270 606 270.5 616" fill="none" stroke="#999" stroke-width="0.8" stroke-dasharray="1.2 1.3"/>
<g fill="none" stroke="#4a4a4a" stroke-width="1.1">
<path d="M262.9 636.3 V648.7 M255.2 640.7 L262.9 648.7 L270.59999999999997 640.7"/>
<path d="M140.9 676.9 V689.3000000000001 M133.20000000000002 681.3000000000001 L140.9 689.3000000000001 L148.6 681.3000000000001"/>
<path d="M222.2 676.9 V689.3000000000001 M214.5 681.3000000000001 L222.2 689.3000000000001 L229.89999999999998 681.3000000000001"/>
<path d="M303.6 676.9 V689.3000000000001 M295.90000000000003 681.3000000000001 L303.6 689.3000000000001 L311.3 681.3000000000001"/>
<path d="M100.3 717.5 V729.9000000000001 M92.6 721.9000000000001 L100.3 729.9000000000001 L108.0 721.9000000000001"/>
<path d="M181.6 717.5 V729.9000000000001 M173.9 721.9000000000001 L181.6 729.9000000000001 L189.29999999999998 721.9000000000001"/>
<path d="M262.9 717.5 V729.9000000000001 M255.2 721.9000000000001 L262.9 729.9000000000001 L270.59999999999997 721.9000000000001"/>
<path d="M344.2 717.5 V729.9000000000001 M336.5 721.9000000000001 L344.2 729.9000000000001 L351.9 721.9000000000001"/>
<path d="M140.9 758.0999999999999 V770.5 M133.20000000000002 762.5 L140.9 770.5 L148.6 762.5"/>
<path d="M222.2 758.0999999999999 V770.5 M214.5 762.5 L222.2 770.5 L229.89999999999998 762.5"/>
<path d="M303.6 758.0999999999999 V770.5 M295.90000000000003 762.5 L303.6 770.5 L311.3 762.5"/>
<path d="M384.9 758.0999999999999 V770.5 M377.2 762.5 L384.9 770.5 L392.59999999999997 762.5"/>
<path d="M100.3 798.6999999999999 V811.1 M92.6 803.1 L100.3 811.1 L108.0 803.1"/>
<path d="M181.6 798.6999999999999 V811.1 M173.9 803.1 L181.6 811.1 L189.29999999999998 803.1"/>
<path d="M262.9 798.6999999999999 V811.1 M255.2 803.1 L262.9 811.1 L270.59999999999997 803.1"/>
<path d="M344.2 798.6999999999999 V811.1 M336.5 803.1 L344.2 811.1 L351.9 803.1"/>
<path d="M425.5 798.6999999999999 V811.1 M417.8 803.1 L425.5 811.1 L433.2 803.1"/>
<path d="M140.9 839.3 V851.7 M133.20000000000002 843.7 L140.9 851.7 L148.6 843.7"/>
<path d="M222.2 839.3 V851.7 M214.5 843.7 L222.2 851.7 L229.89999999999998 843.7"/>
<path d="M303.6 839.3 V851.7 M295.90000000000003 843.7 L303.6 851.7 L311.3 843.7"/>
<path d="M384.9 839.3 V851.7 M377.2 843.7 L384.9 851.7 L392.59999999999997 843.7"/>
<path d="M181.6 879.9 V892.3000000000001 M173.9 884.3000000000001 L181.6 892.3000000000001 L189.29999999999998 884.3000000000001"/>
<path d="M262.9 879.9 V892.3000000000001 M255.2 884.3000000000001 L262.9 892.3000000000001 L270.59999999999997 884.3000000000001"/>
<path d="M344.2 879.9 V892.3000000000001 M336.5 884.3000000000001 L344.2 892.3000000000001 L351.9 884.3000000000001"/>
<path d="M425.5 879.9 V892.3000000000001 M417.8 884.3000000000001 L425.5 892.3000000000001 L433.2 884.3000000000001"/>
<path d="M140.9 920.5 V932.9000000000001 M133.20000000000002 924.9000000000001 L140.9 932.9000000000001 L148.6 924.9000000000001"/>
<path d="M222.2 920.5 V932.9000000000001 M214.5 924.9000000000001 L222.2 932.9000000000001 L229.89999999999998 924.9000000000001"/>
<path d="M303.6 920.5 V932.9000000000001 M295.90000000000003 924.9000000000001 L303.6 932.9000000000001 L311.3 924.9000000000001"/>
<path d="M384.9 920.5 V932.9000000000001 M377.2 924.9000000000001 L384.9 932.9000000000001 L392.59999999999997 924.9000000000001"/>
<path d="M181.6 961.0999999999999 V973.5 M173.9 965.5 L181.6 973.5 L189.29999999999998 965.5"/>
<path d="M262.9 961.0999999999999 V973.5 M255.2 965.5 L262.9 973.5 L270.59999999999997 965.5"/>
</g>
<line x1="0" y1="634" x2="120" y2="627.8" stroke="#1a1a1a" stroke-width="1.3"/>
<line x1="120" y1="627.8" x2="270" y2="621" stroke="#1a1a1a" stroke-width="1.3"/>
<line x1="270" y1="621" x2="146.5" y2="893.5" stroke="#1a1a1a" stroke-width="1.3"/>
<line x1="270" y1="621" x2="330" y2="1043.5" stroke="#1a1a1a" stroke-width="1.3"/>
<line x1="0" y1="840" x2="146.5" y2="893.5" stroke="#1a1a1a" stroke-width="1.3"/>
<line x1="146.5" y1="893.5" x2="115.6" y2="993.6" stroke="#1a1a1a" stroke-width="1.3"/>
<line x1="115.6" y1="993.6" x2="88" y2="998" stroke="#1a1a1a" stroke-width="1.3"/>
<line x1="88" y1="998" x2="0" y2="1009.5" stroke="#1a1a1a" stroke-width="1.3"/>
<line x1="115.6" y1="993.6" x2="146.3" y2="1183" stroke="#1a1a1a" stroke-width="1.3"/>
<line x1="330" y1="1043.5" x2="344.5" y2="1150.5" stroke="#1a1a1a" stroke-width="1.3"/>
<line x1="344.5" y1="1150.5" x2="382" y2="1144.5" stroke="#1a1a1a" stroke-width="1.8"/>
<line x1="272" y1="598" x2="270.5" y2="616" stroke="#2a2a2a" stroke-width="0.9"/>
<line x1="70" y1="1195" x2="146.3" y2="1183" stroke="#2a2a2a" stroke-width="0.9"/>
<line x1="146.3" y1="1183" x2="344.5" y2="1150.5" stroke="#1a1a1a" stroke-width="1.3"/>
<line x1="382" y1="1144.5" x2="466" y2="1131.6" stroke="#2a2a2a" stroke-width="0.9"/>
<g fill="none" stroke="#2a2a2a" stroke-width="1" stroke-dasharray="5 3">
<path d="M0 615 L170 606"/>
<path d="M0 652.5 L89 649"/>
<path d="M0 1031 L100 1016 L117.5 1115 L127.5 1185"/>
<path d="M0 1050.5 L102.5 1035"/>
<path d="M17.5 1165 L120 1149"/>
<path d="M0 1186.5 L125 1170"/>
<path d="M139 1022.5 L165 1180"/>
<path d="M120 1149 L289 1122.5"/>
<path d="M125 1170 L466 1113"/>
<path d="M466 936 L397.7 1108.5" stroke-dasharray="4 2.5"/>
<path d="M316 1040 L326 1110"/>
</g>
<g fill="none" stroke="#2a2a2a" stroke-width="0.9">
<path d="M112 1095 L130 1092"/>
<path d="M115 1117 L183 1106"/>
<path d="M133 1184 L125 1137 M122 1137.6 L128 1136.4 M130 1184.6 L136 1183.4"/>
<path d="M142 1152 L192 1143.6 M141.5 1149 L142.5 1155"/>
<path d="M189 1127 L196 1174 M222 1120 L231 1169"/>
<path d="M190 1124 L203.5 1106 L222.5 1119 M203.5 1106 L205.5 1121"/>
<path d="M289 1128 L341.5 1120.5 M288.5 1125 L289.5 1131"/>
<path d="M346 1099.5 L389.5 1095.6 L395.5 1143 L382 1144.5"/>
<path d="M459.4 844 L466 851"/>
</g>
<polygon points="177.5,1063.7 278.7,1046.2 287.5,1108.7 188.7,1126.2" fill="#fff" stroke="#555" stroke-width="3.2"/>
<polygon points="177.5,1063.7 278.7,1046.2 287.5,1108.7 188.7,1126.2" fill="none" stroke="#ddd" stroke-width="0.8"/>
<polygon points="174.5,1061.5 281.3,1043 291,1111.3 186.3,1129.7" fill="none" stroke="#444" stroke-width="0.8" stroke-dasharray="2.5 2"/>
<path d="M190 1123.5 L203.5 1106 L222.5 1118.5 M203.5 1106 L205.5 1121" fill="none" stroke="#2a2a2a" stroke-width="0.9"/>
<path d="M466 862 L265 1197" fill="none" stroke="#777" stroke-width="1" stroke-dasharray="14 3 2 3 2 3"/>
<circle cx="120" cy="627.8" r="3.6" fill="#000"/>
<circle cx="115.6" cy="993.6" r="3.6" fill="#000"/>
<circle cx="146.3" cy="1183" r="3.6" fill="#000"/>
<circle cx="330" cy="1043.5" r="3.6" fill="#000"/>
<circle cx="344.5" cy="1150.5" r="3.6" fill="#000"/>
<polygon points="263.5,625.5 276.5,625.5 270,615" fill="#000"/>
<polygon points="140.0,898.0 153.0,898.0 146.5,887.5" fill="#000"/>
<polygon points="375.5,1149.0 388.5,1149.0 382,1138.5" fill="#000"/>
<g transform="translate(213.5 613.5) rotate(-1.5)" class="cad"><rect x="-41.5" y="-6.25" width="83" height="12.5" fill="#fff" stroke="#505050" stroke-width="1.1"/><text x="0" y="4.2" font-size="11.6" text-anchor="middle" textLength="74" lengthAdjust="spacingAndGlyphs">222.27' (total)</text></g>
<g transform="translate(180 636.5) rotate(-1)" class="cad"><rect x="-19.25" y="-5.5" width="38.5" height="11" fill="#fff" stroke="#505050" stroke-width="1.1"/><text x="0" y="4.0" font-size="11.0" text-anchor="middle" textLength="32" lengthAdjust="spacingAndGlyphs">78.39'</text></g>
<g transform="translate(95 864) rotate(19.5)" class="cad"><rect x="-41.0" y="-6.5" width="82" height="13" fill="#fff" stroke="#505050" stroke-width="1.1"/><text x="0" y="4.2" font-size="11.6" text-anchor="middle" textLength="74" lengthAdjust="spacingAndGlyphs">178.87' (total)</text></g>
<g transform="translate(87.5 885) rotate(18)" class="cad"><rect x="-19.5" y="-5.5" width="39" height="11" fill="#fff" stroke="#505050" stroke-width="1.1"/><text x="0" y="4.0" font-size="11.0" text-anchor="middle" textLength="32" lengthAdjust="spacingAndGlyphs">60.52'</text></g>
<g transform="translate(30 992) rotate(-8.5)" class="cad"><rect x="-46.0" y="-6.25" width="92" height="12.5" fill="#fff" stroke="#505050" stroke-width="1.1"/><text x="0" y="4.2" font-size="11.6" text-anchor="middle" textLength="80" lengthAdjust="spacingAndGlyphs">N 80°46'01" W</text></g>
<g transform="translate(87 983.5) rotate(24)" class="cad"><rect x="-12.0" y="-4.0" width="24" height="8" fill="#fff" stroke="#505050" stroke-width="1.1"/><text x="0" y="2.3" font-size="6.5" text-anchor="middle" textLength="18" lengthAdjust="spacingAndGlyphs">W26</text></g>
<g transform="translate(133 1039.5) rotate(82)" class="cad"><rect x="-39.5" y="-5.5" width="79" height="11" fill="#fff" stroke="#505050" stroke-width="1.1"/><text x="0" y="3.8" font-size="10.5" text-anchor="middle" textLength="70" lengthAdjust="spacingAndGlyphs">S 09°31'50" E</text></g>
<g transform="translate(302 774.5) rotate(82.4)" class="cad"><rect x="-40.75" y="-6.25" width="81.5" height="12.5" fill="#fff" stroke="#505050" stroke-width="1.1"/><text x="0" y="4.2" font-size="11.6" text-anchor="middle" textLength="74" lengthAdjust="spacingAndGlyphs">S 08°03'08" E</text></g>
<g transform="translate(352.6 753.4) rotate(0)" class="cad"><rect x="-25.6" y="-5.85" width="51.2" height="11.7" fill="#fff" stroke="#505050" stroke-width="1.1"/><text x="0" y="4.0" font-size="11.0" text-anchor="middle" textLength="36" lengthAdjust="spacingAndGlyphs">Wetland</text></g>
<g transform="translate(351.6 769.7) rotate(0)" class="cad"><rect x="-34.6" y="-7.25" width="69.2" height="14.5" fill="#fff" stroke="#505050" stroke-width="1.1"/><text x="0" y="4.4" font-size="12.1" text-anchor="middle" textLength="58" lengthAdjust="spacingAndGlyphs">13,235 Sqft</text></g>
<g transform="translate(352.2 784) rotate(0)" class="cad"><rect x="-25.25" y="-6.0" width="50.5" height="12" fill="#fff" stroke="#505050" stroke-width="1.1"/><text x="0" y="4.2" font-size="11.6" text-anchor="middle" textLength="42" lengthAdjust="spacingAndGlyphs">0.30 Ac.</text></g>
<g transform="translate(303 1032) rotate(-3)" class="cad"><rect x="-11.5" y="-4.25" width="23" height="8.5" fill="#fff" stroke="#505050" stroke-width="1.1"/><text x="0" y="2.3" font-size="6.5" text-anchor="middle" textLength="17" lengthAdjust="spacingAndGlyphs">W27</text></g>
<g transform="translate(176 1014) rotate(4)" class="cad"><rect x="-11.5" y="-4.25" width="23" height="8.5" fill="#fff" stroke="#505050" stroke-width="1.1"/><text x="0" y="2.3" font-size="6.5" text-anchor="middle" textLength="17" lengthAdjust="spacingAndGlyphs">W27</text></g>
<g transform="translate(326.5 1098.5) rotate(81)" class="cad"><rect x="-19.0" y="-4.25" width="38" height="8.5" fill="#fff" stroke="#505050" stroke-width="1.1"/><text x="0" y="3.4" font-size="9.4" text-anchor="middle" textLength="30" lengthAdjust="spacingAndGlyphs">56.30'</text></g>
<g transform="translate(346.5 1088) rotate(82)" class="cad"><rect x="-40.0" y="-5.5" width="80" height="11" fill="#fff" stroke="#505050" stroke-width="1.1"/><text x="0" y="3.8" font-size="10.5" text-anchor="middle" textLength="70" lengthAdjust="spacingAndGlyphs">279.09' (total)</text></g>
<g transform="translate(363.5 1135.5) rotate(-6)" class="cad"><rect x="-18.5" y="-6.5" width="37" height="13" fill="#fff" stroke="#505050" stroke-width="1.1"/><text x="0" y="4.0" font-size="11.0" text-anchor="middle" textLength="30" lengthAdjust="spacingAndGlyphs">19.69'</text></g>
<g transform="translate(228 683) rotate(-65.5)" class="cad"><text x="0" y="4.3" font-size="12.0" text-anchor="middle" textLength="36" lengthAdjust="spacingAndGlyphs">156.90'</text></g>
<g transform="translate(168 817) rotate(-65.5)" class="cad"><text x="0" y="4.3" font-size="12.0" text-anchor="middle" textLength="72" lengthAdjust="spacingAndGlyphs">S 24°23'20" W</text></g>
<g transform="translate(288.5 833) rotate(82)" class="cad"><text x="0" y="4.3" font-size="12.0" text-anchor="middle" textLength="36" lengthAdjust="spacingAndGlyphs">222.79'</text></g>
<g transform="translate(121 940) rotate(-73)" class="cad"><text x="0" y="4.1" font-size="11.4" text-anchor="middle" textLength="66" lengthAdjust="spacingAndGlyphs">S 17°03'12" W</text></g>
<g transform="translate(140.5 946) rotate(-76)" class="cad"><text x="0" y="4.3" font-size="12.0" text-anchor="middle" textLength="30" lengthAdjust="spacingAndGlyphs">53.91'</text></g>
<g transform="translate(228 824) rotate(0)" class="cad"><text x="0" y="3.7" font-size="10.2" text-anchor="middle" textLength="33" lengthAdjust="spacingAndGlyphs">Wetland</text></g>
<g transform="translate(62 1045) rotate(0)" class="cad"><text x="0" y="3.9" font-size="10.8" text-anchor="middle" textLength="28" lengthAdjust="spacingAndGlyphs">Upland</text></g>
<g transform="translate(67 1064) rotate(0)" class="cad"><text x="0" y="4.3" font-size="12.0" text-anchor="middle" textLength="50" lengthAdjust="spacingAndGlyphs">7,392 Sqft</text></g>
<g transform="translate(65 1079.5) rotate(0)" class="cad"><text x="0" y="4.3" font-size="12.0" text-anchor="middle" textLength="36" lengthAdjust="spacingAndGlyphs">0.17 Ac.</text></g>
<g transform="translate(61 1115) rotate(0)" class="cad"><text x="0" y="4.5" font-size="12.6" text-anchor="middle" textLength="19" lengthAdjust="spacingAndGlyphs">221</text></g>
<g transform="translate(64 1129) rotate(0)" class="cad"><text x="0" y="4.3" font-size="12.0" text-anchor="middle" textLength="60" lengthAdjust="spacingAndGlyphs">7,500 sq. ft.</text></g>
<g transform="translate(64 1141.5) rotate(0)" class="cad"><text x="0" y="4.3" font-size="12.0" text-anchor="middle" textLength="47" lengthAdjust="spacingAndGlyphs">0.17 acres</text></g>
<g transform="translate(72 1184) rotate(-8)" class="cad"><text x="0" y="4.5" font-size="12.6" text-anchor="middle" textLength="34" lengthAdjust="spacingAndGlyphs">75.00'</text></g>
<g transform="translate(253 1068) rotate(-9)" class="cad"><text x="0" y="4.1" font-size="11.4" text-anchor="middle" textLength="17" lengthAdjust="spacingAndGlyphs">220</text></g>
<g transform="translate(255 1083) rotate(-9)" class="cad"><text x="0" y="4.3" font-size="12.0" text-anchor="middle" textLength="62" lengthAdjust="spacingAndGlyphs">20,727 sq. ft.</text></g>
<g transform="translate(262 1095) rotate(-9)" class="cad"><text x="0" y="4.3" font-size="12.0" text-anchor="middle" textLength="50" lengthAdjust="spacingAndGlyphs">0.48 acres</text></g>
<g transform="translate(147.5 1138) rotate(80)" class="cad"><text x="0" y="4.5" font-size="12.6" text-anchor="middle" textLength="40" lengthAdjust="spacingAndGlyphs">100.00'</text></g>
<g transform="translate(226 1142.5) rotate(-9)" class="cad"><text x="0" y="2.5" font-size="7" text-anchor="middle" textLength="62" lengthAdjust="spacingAndGlyphs">10' Utility Easement</text></g>
<g transform="translate(243 1157) rotate(-9)" class="cad"><text x="0" y="4.5" font-size="12.6" text-anchor="middle" textLength="40" lengthAdjust="spacingAndGlyphs">105.00'</text></g>
<g transform="translate(222 1181) rotate(-9)" class="cad"><text x="0" y="4.3" font-size="12.0" text-anchor="middle" textLength="66" lengthAdjust="spacingAndGlyphs">233.38' (total)</text></g>
<g transform="translate(192 605) rotate(-8)" class="cad"><text x="0" y="2.2" font-size="6" text-anchor="middle" textLength="14" lengthAdjust="spacingAndGlyphs">W22</text></g>
<g transform="translate(67 652) rotate(-55)" class="cad"><text x="0" y="2.2" font-size="6" text-anchor="middle" textLength="14" lengthAdjust="spacingAndGlyphs">W21</text></g>
<g transform="translate(381 986) rotate(-60)" class="cad"><text x="0" y="2.3" font-size="6.5" text-anchor="middle" textLength="11" lengthAdjust="spacingAndGlyphs">W7</text></g>
<g transform="translate(128 1160) rotate(82)" class="cad"><text x="0" y="1.4" font-size="4" text-anchor="middle" textLength="14" lengthAdjust="spacingAndGlyphs" style="fill:#333">25'-4"</text></g>
<g transform="translate(165 1145) rotate(-9)" class="cad"><text x="0" y="1.4" font-size="4" text-anchor="middle" textLength="20" lengthAdjust="spacingAndGlyphs" style="fill:#333">24'-3 1/4"</text></g>
<path d="M466.0 1017.5 L461.6 1024.9 M457.1 1032.2 L444.9 1052.6 M440.5 1059.9 L428.3 1080.3 M423.9 1087.6 L411.7 1107.9 M407.3 1115.3 L378.4 1163.3 M374.0 1170.7 L360.0 1194.0 " fill="none" stroke="#303030" stroke-width="1.15"/>
<g transform="translate(459.4 1028.6) rotate(-59.0)" class="cad"><text x="0" y="1.7" font-size="4.6" text-anchor="middle" textLength="8.2" lengthAdjust="spacingAndGlyphs" style="fill:#444">OHP</text></g>
<g transform="translate(442.7 1056.2) rotate(-59.0)" class="cad"><text x="0" y="1.7" font-size="4.6" text-anchor="middle" textLength="8.2" lengthAdjust="spacingAndGlyphs" style="fill:#444">OHP</text></g>
<g transform="translate(426.1 1083.9) rotate(-59.0)" class="cad"><text x="0" y="1.7" font-size="4.6" text-anchor="middle" textLength="8.2" lengthAdjust="spacingAndGlyphs" style="fill:#444">OHP</text></g>
<g transform="translate(409.5 1111.6) rotate(-59.0)" class="cad"><text x="0" y="1.7" font-size="4.6" text-anchor="middle" textLength="8.2" lengthAdjust="spacingAndGlyphs" style="fill:#444">OHP</text></g>
<g transform="translate(376.2 1167.0) rotate(-59.0)" class="cad"><text x="0" y="1.7" font-size="4.6" text-anchor="middle" textLength="8.2" lengthAdjust="spacingAndGlyphs" style="fill:#444">OHP</text></g>
<path d="M466.0 1089.0 L460.2 1098.6 M455.7 1105.9 L442.6 1127.4 M438.1 1134.8 L425.0 1156.3 M420.5 1163.6 L407.4 1185.1 M402.9 1192.5 L402.0 1194.0 " fill="none" stroke="#303030" stroke-width="1.15"/>
<g transform="translate(457.9 1102.2) rotate(-58.6)" class="cad"><text x="0" y="1.7" font-size="4.6" text-anchor="middle" textLength="8.2" lengthAdjust="spacingAndGlyphs" style="fill:#444">OHP</text></g>
<g transform="translate(440.3 1131.1) rotate(-58.6)" class="cad"><text x="0" y="1.7" font-size="4.6" text-anchor="middle" textLength="8.2" lengthAdjust="spacingAndGlyphs" style="fill:#444">OHP</text></g>
<g transform="translate(422.7 1160.0) rotate(-58.6)" class="cad"><text x="0" y="1.7" font-size="4.6" text-anchor="middle" textLength="8.2" lengthAdjust="spacingAndGlyphs" style="fill:#444">OHP</text></g>
<g transform="translate(405.2 1188.8) rotate(-58.6)" class="cad"><text x="0" y="1.7" font-size="4.6" text-anchor="middle" textLength="8.2" lengthAdjust="spacingAndGlyphs" style="fill:#444">OHP</text></g>
<text x="495.5" y="684" font-size="14.5" font-weight="bold" fill="#1c1c1c" text-anchor="middle" textLength="145" lengthAdjust="spacingAndGlyphs" >Floor Plan No Dims</text>
<text x="496.5" y="699" font-size="8.5" font-weight="bold" fill="#1c1c1c" text-anchor="middle" textLength="87" lengthAdjust="spacingAndGlyphs" >SCALE: 1/4"=1'-0"</text>
<text x="541.5" y="1135" font-size="15" font-weight="bold" fill="#1c1c1c" text-anchor="middle" textLength="145" lengthAdjust="spacingAndGlyphs" >Rosehaven Lot 220</text>
<text x="541.5" y="1153.5" font-size="15" font-weight="bold" fill="#1c1c1c" text-anchor="middle" textLength="69" lengthAdjust="spacingAndGlyphs" >Site Map</text>
<text x="541.5" y="1166.5" font-size="8.5" font-weight="bold" fill="#1c1c1c" text-anchor="middle" textLength="83" lengthAdjust="spacingAndGlyphs" >SCALE: 1"=30'-0"</text>
<line x1="0" y1="1222" x2="800" y2="1222" stroke="#111" stroke-width="2"/>
<rect x="0" y="1253.5" width="800" height="12.5" fill="#e5e5e5"/>
<text x="-6" y="1266.5" font-size="7" fill="#8a8a8a">3-01-2022</text>
<g fill="#fbfbfb" stroke="#d4d4d4" stroke-width="0.4"><path d="M739 1255 q-3 5 0 11 h6 v-4 h-3 q-1 -2 1 -4 z"/><text x="751" y="1266.5" font-size="15" font-weight="bold" style="font-family:'Liberation Serif',serif" textLength="50" lengthAdjust="spacingAndGlyphs">CCMLS</text></g>
<defs><radialGradient id="sh" cx="0.5" cy="0.5" r="0.5"><stop offset="0.78" stop-color="#000" stop-opacity="0.10"/><stop offset="0.9" stop-color="#000" stop-opacity="0.06"/><stop offset="1" stop-color="#000" stop-opacity="0"/></radialGradient></defs>
<circle cx="718.5" cy="1195" r="58" fill="url(#sh)"/>
<circle cx="718.5" cy="1192" r="47" fill="#fff"/>
<path d="M704.5 1179.8 h31 a2.3 2.3 0 0 1 2.3 2.3 v21 a2.3 2.3 0 0 1 -2.3 2.3 h-13.5 l-10.8 8.6 l-0.8 -8.6 h-5.9 a2.3 2.3 0 0 1 -2.3 -2.3 v-21 a2.3 2.3 0 0 1 2.3 -2.3 z" fill="#fff" stroke="#2b2b2b" stroke-width="2.6" stroke-linejoin="round"/>
</svg>
</body></html>
